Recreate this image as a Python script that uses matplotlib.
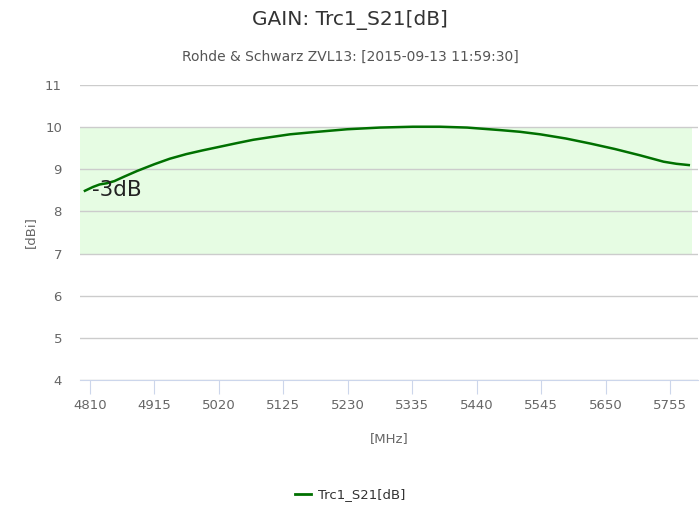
import matplotlib
matplotlib.use("Agg")
import matplotlib.pyplot as plt
from matplotlib.lines import Line2D

plt.rcParams['font.family'] = ['DejaVu Sans']

freq_mhz = [4802, 4815, 4826, 4838, 4850, 4865, 4887, 4915, 4940, 4967, 4994, 5020,
            5049, 5076, 5103, 5136, 5173, 5229, 5282, 5336, 5380, 5424, 5478,
            5510, 5543, 5585, 5625, 5665, 5706, 5744, 5765, 5785]
gain_db = [8.49, 8.58, 8.64, 8.67, 8.72, 8.82, 8.96, 9.12, 9.25, 9.36, 9.45, 9.53,
           9.62, 9.70, 9.76, 9.83, 9.88, 9.95, 9.99, 10.01, 10.01, 9.99, 9.93,
           9.89, 9.83, 9.73, 9.61, 9.48, 9.33, 9.18, 9.13, 9.10]
xticks = [4810, 4915, 5020, 5125, 5230, 5335, 5440, 5545, 5650, 5755]
yticks = [4, 5, 6, 7, 8, 9, 10, 11]
band_y = (7, 10)
band_x = (4794, 5790)

fig = plt.figure(figsize=(7, 5.25), dpi=100)
ax = fig.add_axes([80/700, 1-380/525, (698-80)/700, (380-85)/525])

ax.set_xlim(4794, 5800)
ax.set_ylim(4, 11)

ax.fill_between(band_x, band_y[0], band_y[1], color='#e6fce3', zorder=0, linewidth=0)
for y in yticks:
    ax.axhline(y, color='#cccccc', linewidth=1, zorder=1)

ax.plot(freq_mhz, gain_db, color='#007000', linewidth=1.8, zorder=3)
ax.text(4813, 8.5, '-3dB', fontsize=15.5, color='#222222', va='center', ha='left', zorder=4)

for s in ['top', 'right', 'left']:
    ax.spines[s].set_visible(False)
ax.spines['bottom'].set_color('#ccd6eb')
ax.spines['bottom'].set_zorder(5)

ax.set_xticks(xticks)
ax.set_xticklabels([str(v) for v in xticks])
ax.set_yticks(yticks)
ax.tick_params(axis='x', length=10, color='#ccd6eb', labelsize=9.5, labelcolor='#666666', pad=4)
ax.tick_params(axis='y', length=0, labelsize=9.5, labelcolor='#666666', pad=13)

ax.set_xlabel('[MHz]', fontsize=9.5, color='#666666', labelpad=14)
ax.set_ylabel('[dBi]', fontsize=9.5, color='#666666', labelpad=6)

fig.text(0.5, 1-20/525, 'GAIN: Trc1_S21[dB]', ha='center', va='center', fontsize=14.5, color='#333333')
fig.text(0.5, 1-57/525, 'Rohde & Schwarz ZVL13: [2015-09-13 11:59:30]', ha='center', va='center',
         fontsize=10, color='#555555')

handle = Line2D([0], [0], color='#007000', linewidth=2)
fig.legend([handle], ['Trc1_S21[dB]'], loc='center', bbox_to_anchor=(0.5, 1-495/525),
           frameon=False, fontsize=9.5, handlelength=1.2, handletextpad=0.5, labelcolor='#333333')

fig.savefig('out.png', dpi=100)
